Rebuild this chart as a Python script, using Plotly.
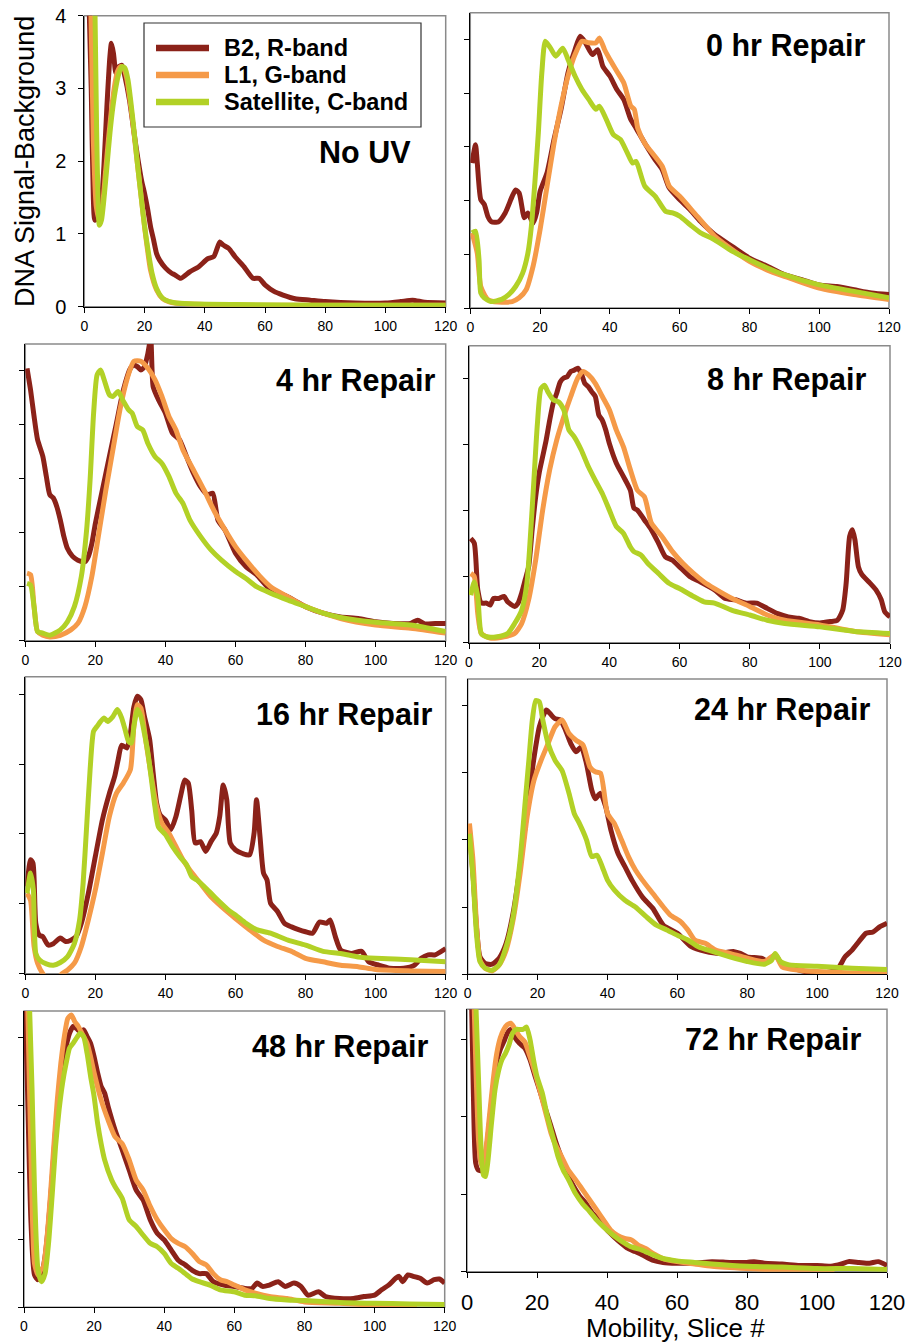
import plotly.graph_objects as go

# ---------------- data ----------------
SERIES_NAMES = ["B2, R-band", "L1, G-band", "Satellite, C-band"]
PANEL_TITLES = ["No UV", "0 hr Repair", "4 hr Repair", "8 hr Repair",
                "16 hr Repair", "24 hr Repair", "48 hr Repair", "72 hr Repair"]
X_TICKS = [0, 20, 40, 60, 80, 100, 120]
Y_TICKS_NOUV = [0, 1, 2, 3, 4]

# No UV
B2_NOUV = [(1.3,4.6),(2.3,3.0),(3,1.5),(3.5,1.19),(4.5,1.24),(5.5,1.37),(6.5,1.92),(7.5,2.75),(8.5,3.44),(9,3.62),
           (9.7,3.48),(10.5,3.21),(11.5,3.30),(12.5,3.32),(13.5,3.16),(15,2.84),(17,2.25),(19,1.74),(20,1.56),(21,1.35),
           (22,1.10),(23,0.92),(24,0.73),(25,0.64),(27,0.53),(29,0.46),(30,0.44),(32,0.39),(35,0.48),(38,0.55),(41,0.66),
           (43,0.69),(45,0.89),(46,0.85),(48,0.80),(50,0.69),(53,0.55),(56,0.39),(58,0.39),(60,0.30),(63,0.21),(66,0.16),
           (70,0.11),(75,0.09),(80,0.07),(90,0.05),(100,0.05),(105,0.07),(109,0.09),(113,0.06),(120,0.05)]
L1_NOUV = [(2,4.5),(3,2.29),(4,1.37),(5,1.19),(6,1.37),(7,1.83),(8,2.29),(9,2.70),(10,3.02),(11,3.23),(12,3.30),
           (13,3.28),(14,3.16),(15,2.89),(16,2.57),(17,2.20),(18,1.83),(19,1.47),(20,1.10),(21,0.78),(22,0.50),(24,0.23),
           (26,0.11),(28,0.07),(30,0.05),(40,0.03),(60,0.02),(120,0.02)]
SAT_NOUV = [(3.4,4.5),(4.1,2.4),(4.6,1.4),(5,1.12),(5.7,1.19),(6.5,1.47),(7.5,1.92),(8.5,2.38),(9.5,2.75),(10.5,3.02),
            (11.5,3.21),(12.5,3.30),(13.5,3.28),(14.5,3.12),(15.5,2.80),(16.5,2.43),(17.5,2.02),(18.5,1.65),(19.5,1.28),
            (20.5,0.96),(21.5,0.69),(22.5,0.46),(24,0.25),(25.5,0.14),(27,0.09),(30,0.055),(35,0.04),(50,0.03),(80,0.02),(120,0.02)]

# 0 hr
B2_0HR = [(0.5,2.70),(1.5,3.04),(2,2.70),(3,2.02),(4,1.93),(5,1.71),(6,1.61),(8,1.60),(10,1.77),(12,2.08),(13,2.20),
          (14,2.14),(15.5,1.68),(16.5,1.77),(18,1.58),(19,1.77),(20,2.17),(22,2.52),(24,3.14),(26,3.70),(28,4.38),(30,4.81),
          (31.5,5.06),(33,4.94),(35,4.72),(36.5,4.81),(38,4.50),(40,4.32),(42,4.07),(44,3.88),(46,3.51),(47.5,3.35),(50,3.07),
          (53,2.76),(55,2.58),(57,2.24),(60,2.02),(63,1.83),(66,1.61),(70,1.37),(75,1.15),(80,0.93),(85,0.78),(90,0.62),
          (95,0.53),(100,0.43),(105,0.40),(110,0.34),(115,0.28),(120,0.25)]
L1_0HR = [(0.5,1.40),(2,1.02),(3,0.40),(5,0.16),(8,0.11),(12,0.12),(14,0.19),(16,0.34),(18,0.78),(20,1.46),(22,2.27),
          (24,3.07),(26,3.76),(28,4.32),(30,4.72),(32,4.97),(34,4.94),(36,4.94),(37,5.03),(38.5,4.81),(40,4.63),(42,4.41),
          (44,4.19),(46,3.76),(47,3.70),(48,3.35),(50,3.07),(55,2.64),(57,2.27),(60,2.08),(65,1.71),(70,1.34),(75,1.09),
          (80,0.87),(85,0.71),(90,0.59),(100,0.37),(110,0.25),(120,0.16)]
SAT_0HR = [(0.5,1.40),(1.5,1.43),(2.5,0.90),(3,0.28),(4,0.19),(6,0.12),(9,0.16),(11,0.25),(13,0.40),(15,0.65),(16.5,1.02),
           (17.5,1.52),(18.5,2.33),(19.5,3.26),(20.5,4.38),(21.5,4.97),(23,4.84),(24.5,4.69),(26.5,4.84),(28,4.63),(30,4.32),
           (32,4.07),(34,3.88),(36,3.70),(37,3.76),(39,3.51),(41,3.23),(43,3.14),(45,2.89),(46.5,2.70),(47.5,2.73),(50,2.27),
           (53,2.08),(56,1.80),(58,1.77),(60,1.71),(63,1.55),(66,1.40),(70,1.27),(75,1.06),(80,0.90),(85,0.75),(90,0.62),
           (100,0.43),(110,0.31),(120,0.19)]

# 4 hr
B2_4HR = [(0.5,5.04),(1.5,4.64),(2.5,4.15),(3.5,3.72),(5,3.41),(6,3.04),(7,2.70),(8,2.64),(9,2.48),(10,2.23),(11,1.93),
          (12,1.71),(13.5,1.56),(15,1.49),(17,1.46),(18,1.56),(19,1.80),(20,2.17),(22,2.79),(24,3.41),(26,4.02),(28,4.64),
          (30,5.04),(31,5.10),(32,5.07),(33,5.01),(34,5.07),(35,5.32),(35.8,5.6),(36.5,4.70),(38,4.46),(40,4.21),(42,3.84),
          (44,3.72),(46,3.41),(48,3.10),(50,2.85),(52,2.70),(53.5,2.73),(55,2.23),(57,2.05),(60,1.62),(63,1.37),(66,1.22),
          (70,0.94),(75,0.81),(80,0.63),(85,0.51),(90,0.44),(95,0.41),(100,0.35),(105,0.32),(110,0.32),(112,0.38),(114,0.31),
          (117,0.32),(120,0.32)]
L1_4HR = [(0.5,1.25),(1.5,1.22),(2.5,0.63),(3.5,0.17),(5,0.10),(7,0.07),(10,0.10),(13,0.20),(15,0.32),(17,0.63),(19,1.19),
          (21,1.99),(23,2.79),(25,3.53),(27,4.27),(29,4.83),(31,5.17),(33,5.17),(35,5.04),(37,4.83),(39,4.52),(41,4.15),
          (43,3.90),(45,3.53),(48,3.16),(51,2.79),(54,2.39),(57,2.05),(60,1.74),(63,1.49),(67,1.19),(70,1.00),(75,0.81),
          (80,0.63),(90,0.41),(100,0.29),(110,0.23),(120,0.14)]
SAT_4HR = [(0.5,1.06),(1.5,1.03),(2.5,0.63),(3.5,0.17),(5,0.14),(7,0.10),(10,0.20),(12,0.35),(14,0.63),(16,1.19),(17.5,2.05),
           (18.5,2.98),(19.5,4.21),(20.5,4.92),(21.5,5.01),(22.5,4.83),(24,4.55),(25,4.52),(26.5,4.61),(28,4.43),(29.5,4.27),
           (30.5,4.21),(32,3.96),(33.5,3.90),(35,3.65),(37,3.41),(39,3.28),(41,3.04),(43,2.73),(45,2.54),(47,2.23),(50,1.93),
           (53,1.68),(56,1.49),(60,1.28),(63,1.15),(66,1.00),(70,0.88),(75,0.75),(80,0.63),(85,0.51),(90,0.43),(100,0.34),
           (110,0.29),(120,0.17)]

# 8 hr
B2_8HR = [(0.5,1.58),(1.5,1.51),(2.5,0.80),(3.5,0.60),(5,0.60),(6,0.57),(7,0.67),(8.5,0.67),(10,0.70),(11,0.62),(13,0.55),
          (14,0.60),(15,0.75),(16,0.95),(17,1.15),(18,1.71),(19,2.21),(20,2.57),(21,2.82),(22,3.07),(23,3.37),(24,3.63),
          (25,3.78),(26,3.95),(27,4.01),(28,4.03),(29,4.11),(30,4.13),(31,4.16),(32,4.08),(33,3.93),(34,3.88),(35,3.80),
          (36,3.73),(37,3.45),(38,3.37),(39,3.22),(40,3.02),(42,2.72),(44,2.52),(46,2.31),(47,2.04),(48,2.01),(50,1.86),
          (52,1.71),(54,1.51),(56,1.30),(58,1.25),(60,1.15),(63,1.00),(66,0.92),(70,0.80),(73,0.67),(76,0.65),(79,0.60),
          (82,0.60),(85,0.52),(88,0.44),(91,0.39),(94,0.37),(97,0.32),(100,0.30),(103,0.32),(105,0.34),(106.5,0.49),
          (107.5,0.90),(108.5,1.61),(109.3,1.71),(110,1.56),(111,1.15),(112,1.03),(114,0.92),(116,0.80),(117.5,0.65),
          (118.5,0.47),(120,0.39)]
L1_8HR = [(0.5,1.05),(1.5,1.00),(2.5,0.44),(3.5,0.14),(6,0.07),(10,0.09),(13,0.14),(15,0.29),(17,0.65),(19,1.25),(21,2.01),
          (23,2.62),(25,3.07),(27,3.42),(29,3.73),(31,4.01),(32.5,4.11),(34,4.06),(36,3.93),(38,3.73),(40,3.53),(42,3.22),
          (44,2.97),(46,2.62),(48,2.31),(50,2.21),(52,1.81),(55,1.61),(58,1.38),(61,1.20),(64,1.05),(67,0.92),(70,0.82),
          (75,0.67),(80,0.55),(85,0.42),(90,0.34),(100,0.27),(110,0.17),(120,0.12)]
SAT_8HR = [(0.5,0.72),(1.5,0.92),(2.5,0.70),(3.5,0.14),(5,0.09),(8,0.09),(11,0.14),(13,0.29),(15,0.49),(16.5,0.90),
           (17.5,1.61),(18.5,2.46),(19.5,3.32),(20.5,3.85),(21.5,3.90),(22.5,3.80),(24,3.68),(25.5,3.65),(27,3.53),
           (28.5,3.22),(30,3.12),(32,2.92),(34,2.67),(36,2.46),(38,2.26),(40,2.01),(42,1.76),(44,1.66),(46,1.45),(47,1.38),
           (49,1.33),(51,1.20),(54,1.05),(57,0.90),(60,0.82),(64,0.70),(67,0.62),(70,0.60),(75,0.49),(80,0.42),(85,0.34),
           (90,0.29),(100,0.24),(110,0.17),(120,0.14)]

# 16 hr
B2_16HR = [(0.5,1.25),(1.5,1.63),(2.2,1.58),(3,0.72),(4,0.55),(5,0.53),(6.5,0.41),(8,0.43),(10,0.51),(11.5,0.46),(13,0.48),
           (14.5,0.53),(16,0.72),(18,1.15),(20,1.68),(22,2.20),(24,2.58),(25.5,2.82),(26.5,3.06),(27.5,3.27),(29,3.23),
           (30,3.44),(31,3.82),(32,3.97),(33,3.92),(34,3.68),(35.5,3.35),(36.5,2.87),(37.5,2.44),(38.5,2.27),(40,2.20),
           (41.5,2.06),(43,2.25),(44.5,2.58),(45.5,2.77),(46.5,2.73),(47.5,2.34),(48.5,1.87),(50,1.89),(51.5,1.75),
           (53,1.89),(54.5,2.01),(55.5,2.25),(56.5,2.70),(57.5,2.49),(58.5,1.87),(60,1.77),(62,1.72),(64,1.70),(65.3,2.01),
           (66,2.49),(67,1.96),(68,1.44),(69,1.34),(70,1.01),(72,0.89),(74,0.72),(76,0.67),(78,0.63),(80,0.60),(82,0.58),
           (84,0.74),(86,0.72),(87,0.77),(88.5,0.53),(90,0.34),(93,0.29),(96,0.32),(98,0.17),(101,0.12),(104,0.08),
           (108,0.08),(111,0.12),(113,0.22),(115,0.27),(117,0.27),(120,0.36)]
L1_16HR = [(0.5,1.15),(1.5,1.05),(2.5,0.39),(3.5,0.15),(5,0.0),(6.5,-0.08),(9,-0.08),(10.5,0.0),(12,0.05),(14,0.15),
           (16,0.39),(18,0.77),(20,1.20),(22,1.72),(24,2.25),(26,2.58),(28,2.73),(30,2.92),(31,3.54),(32,3.85),(33,3.80),
           (34.5,3.30),(36,2.82),(37.5,2.39),(39,2.15),(41,2.01),(43,1.82),(45,1.63),(47,1.48),(50,1.29),(53,1.10),
           (56,0.96),(60,0.79),(64,0.63),(68,0.48),(72,0.39),(76,0.32),(80,0.22),(85,0.17),(90,0.12),(95,0.10),(100,0.06),
           (110,0.04),(120,0.03)]
SAT_16HR = [(0.5,1.15),(1.5,1.44),(2.3,1.20),(3,0.29),(4,0.20),(6,0.14),(8,0.12),(10,0.16),(12,0.24),(14,0.43),(15.5,0.77),
            (16.5,1.29),(17.5,2.10),(18.5,2.92),(19.5,3.47),(20.5,3.54),(21.5,3.61),(22.5,3.66),(23.5,3.61),(25,3.68),
            (26.3,3.78),(27.5,3.66),(28.5,3.49),(29.5,3.32),(30.3,3.30),(31,3.54),(32,3.78),(33,3.68),(34,3.44),(35,3.16),
            (36,2.78),(37,2.39),(38,2.10),(40,1.99),(42,1.82),(44,1.68),(46,1.56),(47.5,1.39),(49,1.34),(52,1.20),(55,1.05),
            (58,0.91),(60,0.84),(63,0.72),(66,0.63),(70,0.58),(75,0.48),(80,0.41),(85,0.32),(90,0.29),(95,0.24),(100,0.22),
            (110,0.20),(120,0.17)]

# 24 hr
B2_24HR = [(0.5,2.14),(1.5,1.50),(2.5,0.71),(3.5,0.26),(5,0.16),(7,0.15),(9,0.24),(11,0.46),(13,0.91),(15,1.60),(17,2.44),
           (19,3.23),(20.5,3.68),(21.5,3.83),(22.5,3.93),(23.5,3.88),(25,3.80),(26.5,3.78),(28,3.63),(29.5,3.43),(31,3.31),
           (32.5,3.38),(34,3.13),(35.5,2.74),(36.5,2.61),(38,2.69),(39.5,2.49),(41,2.14),(43,1.80),(45,1.60),(47,1.40),
           (50,1.15),(53,0.98),(56,0.73),(60,0.61),(64,0.41),(68,0.34),(72,0.31),(76,0.34),(78,0.31),(80,0.26),(84,0.24),
           (86,0.19),(88,0.29),(90,0.14),(95,0.06),(100,0.01),(104,0.04),(106,0.09),(108,0.26),(110,0.36),(112,0.49),
           (114,0.61),(116,0.63),(118,0.71),(120,0.76)]
L1_24HR = [(0.5,2.24),(1.5,1.70),(2.5,0.76),(3.5,0.21),(5,0.09),(7,0.05),(9,0.14),(11,0.36),(13,0.81),(15,1.50),(17,2.34),
           (19,2.89),(21,3.18),(23,3.43),(25,3.68),(27,3.78),(29,3.58),(31,3.48),(33,3.41),(35,3.08),(36.5,3.01),(38,2.99),
           (40,2.39),(42,2.24),(44,2.00),(46,1.75),(48,1.55),(50,1.40),(53,1.20),(56,1.00),(58,0.88),(61,0.78),(63,0.66),
           (65,0.51),(68,0.46),(71,0.36),(75,0.31),(80,0.24),(85,0.19),(88,0.29),(90,0.11),(95,0.06),(100,0.04),(110,0.02),
           (120,0.01)]
SAT_24HR = [(0.5,2.09),(1.5,1.45),(2.5,0.61),(3.5,0.19),(5,0.09),(7,0.06),(9,0.14),(11,0.41),(13,0.86),(15,1.70),
            (16.5,2.59),(17.5,3.18),(18.5,3.78),(19.5,4.07),(20.5,4.05),(21.5,3.78),(23,3.43),(25,3.18),(27,3.03),(29,2.69),
            (30.5,2.39),(32,2.24),(34,2.00),(35.5,1.75),(37,1.77),(38.5,1.60),(40,1.40),(42,1.25),(45,1.10),(48,1.00),
            (51,0.86),(54,0.73),(57,0.66),(60,0.58),(63,0.51),(66,0.41),(70,0.34),(75,0.26),(80,0.19),(85,0.15),(87,0.21),
            (88,0.31),(89.5,0.19),(92,0.14),(100,0.12),(110,0.09),(120,0.07)]

# 48 hr
B2_48HR = [(0.3,4.6),(1,3.23),(2,1.25),(3,0.48),(4,0.41),(5,0.48),(6,0.75),(7,1.25),(8,1.89),(9,2.63),(10,3.18),(11,3.57),
           (12,3.87),(13,4.07),(14,4.17),(15,4.14),(16,4.09),(17,4.12),(18,4.02),(19,3.92),(20,3.72),(21,3.48),(22,3.28),
           (23,3.18),(24,2.98),(26,2.63),(28,2.34),(30,2.04),(32,1.74),(34,1.59),(36,1.30),(38,1.10),(40,1.00),(42,0.85),
           (44,0.70),(46,0.63),(48,0.55),(50,0.50),(52,0.50),(54,0.38),(57,0.33),(60,0.31),(63,0.28),(65,0.28),(66.5,0.36),
           (68,0.31),(70,0.33),(72.5,0.38),(74.5,0.31),(77,0.36),(79,0.31),(81,0.18),(84,0.23),(86,0.16),(90,0.13),(94,0.13),
           (97,0.16),(100,0.18),(102,0.26),(104,0.33),(106,0.43),(107,0.46),(108,0.38),(109.5,0.48),(111,0.46),(113,0.43),
           (115,0.36),(117,0.41),(118.5,0.42),(120,0.36)]
L1_48HR = [(1,4.6),(2,2.24),(3,0.65),(4,0.48),(4.7,0.55),(5.5,0.60),(6.5,1.00),(7.5,1.64),(8.5,2.39),(9.5,3.08),(10.5,3.62),
           (11.5,4.02),(12.5,4.29),(13.5,4.34),(14.5,4.24),(15.5,4.17),(16.5,4.07),(18,3.92),(19,3.72),(20,3.48),(22,3.08),
           (24,2.78),(26,2.53),(28,2.43),(30,2.19),(32,1.89),(34,1.74),(36,1.50),(38,1.30),(40,1.15),(42,1.02),(44,0.95),
           (46,0.90),(48,0.80),(50,0.68),(52,0.63),(54,0.50),(56,0.41),(58,0.38),(60,0.33),(63,0.26),(66,0.21),(70,0.16),
           (75,0.13),(80,0.08),(90,0.06),(100,0.03),(110,0.01),(112,-0.01)]
SAT_48HR = [(1.5,4.6),(2.3,3.23),(3,1.74),(4,0.55),(5,0.38),(6,0.50),(7,0.95),(8,1.64),(9,2.39),(10,2.93),(11,3.33),
            (12,3.62),(13,3.85),(14,3.92),(15,4.00),(16,4.07),(17,4.02),(18,3.77),(19,3.43),(20,3.13),(21,2.73),(22,2.43),
            (23,2.19),(25,1.89),(26,1.79),(28,1.62),(30,1.30),(32,1.20),(34,1.07),(36,0.95),(38,0.90),(40,0.80),(42,0.65),
            (44,0.58),(46,0.50),(48,0.42),(50,0.38),(53,0.33),(56,0.26),(60,0.23),(63,0.18),(66,0.17),(70,0.13),(75,0.11),
            (80,0.10),(90,0.07),(100,0.06),(110,0.05),(120,0.04)]

# 72 hr
B2_72HR = [(1.3,3.5),(1.8,2.35),(2.5,1.40),(3.3,1.31),(4.3,1.31),(5.5,1.57),(6.5,1.96),(7.5,2.39),(8.5,2.72),(9.5,2.87),
           (10.5,2.97),(11.5,3.08),(12.5,3.13),(13.5,3.04),(15,2.95),(16.5,2.89),(18,2.74),(19.5,2.52),(21,2.31),(22.5,2.09),
           (24,1.88),(25.5,1.66),(27,1.47),(28.5,1.29),(30,1.14),(32,0.99),(34,0.88),(36,0.75),(38,0.67),(40,0.54),(42,0.45),
           (44,0.37),(46,0.30),(48,0.26),(50,0.22),(53,0.15),(56,0.12),(60,0.11),(65,0.11),(70,0.13),(75,0.12),(80,0.12),
           (82,0.13),(85,0.11),(90,0.10),(95,0.08),(100,0.08),(104,0.07),(107,0.10),(109,0.13),(112,0.12),(115,0.11),
           (117.5,0.13),(120,0.08)]
L1_72HR = [(2,3.5),(2.6,2.56),(3.3,1.70),(4,1.40),(4.5,1.36),(5.5,1.62),(6.5,2.05),(7.5,2.48),(8.5,2.82),(9.5,3.02),
           (10.5,3.13),(11.5,3.19),(12.5,3.21),(13.5,3.15),(15,3.04),(16.5,2.97),(18,2.78),(19.5,2.56),(21,2.31),(22.5,2.05),
           (24,1.79),(25.5,1.62),(27,1.49),(29,1.31),(31,1.19),(33,1.06),(35,0.93),(37,0.80),(39,0.67),(41,0.54),(43,0.47),
           (45,0.43),(47,0.41),(49,0.34),(51,0.30),(53,0.24),(56,0.17),(60,0.13),(65,0.10),(70,0.07),(80,0.04),(90,0.02),
           (100,0.01),(105,0.01)]
SAT_72HR = [(2.5,3.5),(3.3,2.48),(4,1.62),(4.7,1.25),(5.3,1.23),(6,1.44),(7,1.92),(8,2.35),(9,2.59),(10,2.74),(11,2.82),
            (12,2.93),(13,3.08),(14,3.13),(15,3.13),(16,3.13),(17,3.16),(18,3.00),(19,2.74),(20,2.52),(21.5,2.31),(23,2.00),
            (24.5,1.75),(26,1.49),(27.5,1.31),(29,1.19),(31,1.01),(33,0.88),(35,0.78),(37,0.67),(39,0.58),(41,0.50),
            (43,0.43),(45,0.37),(47,0.32),(50,0.28),(53,0.22),(56,0.17),(60,0.14),(65,0.12),(70,0.10),(80,0.07),(90,0.06),
            (100,0.04),(110,0.04),(120,0.03)]

PANEL_DATA = [
    (B2_NOUV, L1_NOUV, SAT_NOUV),
    (B2_0HR, L1_0HR, SAT_0HR),
    (B2_4HR, L1_4HR, SAT_4HR),
    (B2_8HR, L1_8HR, SAT_8HR),
    (B2_16HR, L1_16HR, SAT_16HR),
    (B2_24HR, L1_24HR, SAT_24HR),
    (B2_48HR, L1_48HR, SAT_48HR),
    (B2_72HR, L1_72HR, SAT_72HR),
]

# ---------------- layout / style ----------------
W, H = 920, 1344
COLORS = ["#8B2219", "#F59A48", "#B2D126"]
FONT = "Liberation Sans, Arial, sans-serif"

# plot-area pixel boxes (left, right, top, bottom)
BOXES = [
    (84.3, 445.7, 15.7, 306.7),
    (470.3, 889.0, 12.7, 308.0),
    (25.3, 445.7, 344.0, 640.7),
    (469.0, 890.0, 345.7, 642.7),
    (25.3, 445.7, 676.7, 973.7),
    (467.7, 887.0, 679.0, 974.3),
    (24.0, 444.7, 1011.0, 1307.3),
    (467.0, 887.0, 1009.3, 1271.7),
]
Y_TOPS = [4.0, 5.5, 5.49, 4.5, 4.25, 4.39, 4.4, 3.39]
N_TICKS = [4, 5, 5, 4, 4, 4, 4, 3]
# title anchor (right x px, center y px)
TITLE_POS = [(413, 152), (867, 46), (437, 380), (868, 379), (434, 714), (872, 709), (430, 1046), (863, 1039)]

# custom legend geometry (px): box, sample line x-span, text left, row centres
LEG_BOX = (144, 421, 23, 127)
LEG_LINE_X = (156, 209)
LEG_TEXT_X = 222
LEG_ROWS_Y = [48, 75, 102]

def px(x):
    return x / W

def py(y):
    return 1 - y / H

fig = go.Figure()
layout = dict(
    width=W, height=H, autosize=False,
    margin=dict(l=0, r=0, t=0, b=0, autoexpand=False),
    paper_bgcolor="white", plot_bgcolor="white",
    font=dict(family=FONT, color="black"),
    showlegend=False,
)
shapes = []
annotations = []

for i, (data, box, ytop, nt, tpos, title) in enumerate(
        zip(PANEL_DATA, BOXES, Y_TOPS, N_TICKS, TITLE_POS, PANEL_TITLES)):
    n = i + 1
    xa = "x" if n == 1 else f"x{n}"
    ya = "y" if n == 1 else f"y{n}"
    l, r, t, b = box
    bottom_panel = (n == 8)
    layout[f"xaxis{n if n > 1 else ''}"] = dict(
        domain=[l / W, r / W], anchor=ya, range=[0, 120], automargin=False,
        tickvals=X_TICKS, ticks="outside", ticklen=5, tickcolor="black",
        showline=True, linecolor="black", linewidth=1, mirror=False,
        showgrid=False, zeroline=False,
        ticklabelstandoff=6 if bottom_panel else 1,
        tickfont=dict(size=22 if bottom_panel else 14, color="black"),
    )
    yt = Y_TICKS_NOUV if n == 1 else list(range(nt + 1))
    layout[f"yaxis{n if n > 1 else ''}"] = dict(
        domain=[1 - b / H, 1 - t / H], anchor=xa, range=[0, ytop], automargin=False,
        tickvals=yt, ticks="outside", ticklen=5, tickcolor="black",
        showticklabels=(n == 1), tickfont=dict(size=20, color="black"),
        ticklabelstandoff=8,
        showline=True, linecolor="black", linewidth=1, mirror=False,
        showgrid=False, zeroline=False,
    )
    shapes.append(dict(type="rect", xref=f"{xa} domain", yref=f"{ya} domain",
                       x0=0, x1=1, y0=0, y1=1, layer="below",
                       line=dict(color="#8a8a8a", width=1.5)))
    annotations.append(dict(
        text=f"<b>{title}</b>", x=px(tpos[0]), y=py(tpos[1]), xref="paper", yref="paper",
        xanchor="right", yanchor="middle", showarrow=False,
        font=dict(family=FONT, size=30.5, color="black")))
    for s, (pts, name, color) in enumerate(zip(data, SERIES_NAMES, COLORS)):
        fig.add_trace(go.Scatter(
            x=[p[0] for p in pts], y=[p[1] for p in pts],
            mode="lines", name=name, xaxis=xa, yaxis=ya,
            line=dict(color=color, width=5, shape="spline", smoothing=0.6),
            showlegend=False, legendgroup=name, hoverinfo="skip",
        ))

# legend (drawn as a framed key inside the first panel)
shapes.append(dict(type="rect", xref="paper", yref="paper",
                   x0=px(LEG_BOX[0]), x1=px(LEG_BOX[1]), y0=py(LEG_BOX[3]), y1=py(LEG_BOX[2]),
                   line=dict(color="#333333", width=1.2), fillcolor="white", layer="above"))
for name, color, yc in zip(SERIES_NAMES, COLORS, LEG_ROWS_Y):
    shapes.append(dict(type="line", xref="paper", yref="paper",
                       x0=px(LEG_LINE_X[0]), x1=px(LEG_LINE_X[1]), y0=py(yc), y1=py(yc),
                       line=dict(color=color, width=6.5), layer="above"))
    annotations.append(dict(
        text=f"<b>{name}</b>", x=px(LEG_TEXT_X), y=py(yc), xref="paper", yref="paper",
        xanchor="left", yanchor="middle", showarrow=False,
        font=dict(family=FONT, size=23.5, color="black")))

annotations.append(dict(
    text="DNA Signal-Background", x=px(25), y=py(162), xref="paper", yref="paper",
    textangle=-90, showarrow=False, xanchor="center", yanchor="middle",
    font=dict(family=FONT, size=27, color="black")))
annotations.append(dict(
    text="Mobility, Slice #", x=px(675), y=0, xref="paper", yref="paper",
    showarrow=False, xanchor="center", yanchor="bottom", borderpad=0,
    font=dict(family=FONT, size=26, color="black")))

layout["shapes"] = shapes
layout["annotations"] = annotations
fig.update_layout(**layout)
fig.write_html("out.html")
